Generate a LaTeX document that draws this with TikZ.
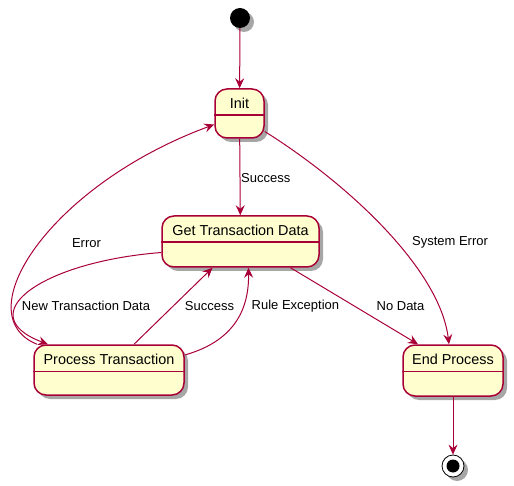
\documentclass[tikz,border=0pt]{standalone}
\usepackage{fontspec}
\setmainfont{Liberation Sans}
\usetikzlibrary{arrows.meta,shadows}
\definecolor{pborder}{HTML}{A80036}
\definecolor{pfill}{HTML}{FEFECE}
\begin{document}
\begin{tikzpicture}[x=1pt,y=-1pt,
  shadowed/.style={drop shadow={shadow xshift=4pt,shadow yshift=-4pt,opacity=0.35,fill=black}},
  statebox/.style={draw=pborder,line width=1.5pt,fill=pfill,rounded corners=12pt,inner sep=0pt,shadowed},
  divider/.style={draw=pborder,line width=1.5pt},
  title/.style={font=\fontsize{14.4}{16}\selectfont,inner sep=0pt},
  lbl/.style={font=\fontsize{13}{15}\selectfont,inner sep=0pt},
  edge/.style={draw=pborder,line width=1pt,-{Stealth[length=10pt,width=9pt,inset=3.5pt]}}
]
\useasboundingbox (0,0) rectangle (514,486);

% states
\node[statebox,minimum width=49pt,minimum height=49pt] (init) at (239.5,113.5) {};
\node[statebox,minimum width=157pt,minimum height=51pt] (gtd) at (240.5,241.5) {};
\node[statebox,minimum width=150pt,minimum height=50pt] (proc) at (109,370) {};
\node[statebox,minimum width=100pt,minimum height=51pt] (endp) at (453,370.5) {};

\foreach \n in {init,gtd,proc,endp}{
  \draw[divider] ([yshift=-27pt]\n.north west) -- ([yshift=-27pt]\n.north east);
}
\node[title] (tinit) at ([yshift=-15pt]init.north) {Init};
\node[title] (tgtd) at ([yshift=-15pt]gtd.north) {Get Transaction Data};
\node[title] (tproc) at ([yshift=-15pt]proc.north) {Process Transaction};
\node[title] (tendp) at ([yshift=-15pt]endp.north) {End Process};

% start / end
\node[circle,fill=black,minimum size=20pt,inner sep=0pt,shadowed] (start) at (240,18) {};
\node[circle,draw=black,line width=0.8pt,fill=white,minimum size=22pt,inner sep=0pt,shadowed] (stop) at (453,466) {};
\node[circle,fill=black,minimum size=13pt,inner sep=0pt] (stopin) at (stop) {};

% transitions
\draw[edge] (start) -- (init);
\draw[edge] (init) -- (gtd);
\draw[edge] ([yshift=-18pt]init.east) .. controls (350,185) and (440,270) .. ([xshift=-4pt]endp.north);
\draw[edge] ([xshift=50pt]gtd.south) -- ([xshift=-35pt]endp.north);
\draw[edge] ([yshift=-11pt]gtd.west) .. controls (40,262) and (-30,315) .. ([xshift=-61pt]proc.north);
\draw[edge] ([xshift=25pt]proc.north) -- ([xshift=-28pt]gtd.south);
\draw[edge] ([yshift=15pt]proc.east) .. controls (238,340) and (249,305) .. ([xshift=8pt]gtd.south);
\draw[edge] ([xshift=-72pt]proc.north) .. controls (-35,315) and (50,185) .. ([yshift=-11pt]init.west);
\draw[edge] (endp) -- (stop);

% labels
\node[lbl,anchor=west] (lsucc1) at (241,178) {Success};
\node[lbl] (lsyserr) at (450,242) {System Error};
\node[lbl] (lnodata) at (400.5,306) {No Data};
\node[lbl] (lnew) at (86,306) {New Transaction Data};
\node[lbl] (lsucc2) at (209.5,306) {Success};
\node[lbl,anchor=west] (lrule) at (251.5,306) {Rule Exception};
\node[lbl] (lerr) at (86.5,243) {Error};
\end{tikzpicture}
\end{document}
